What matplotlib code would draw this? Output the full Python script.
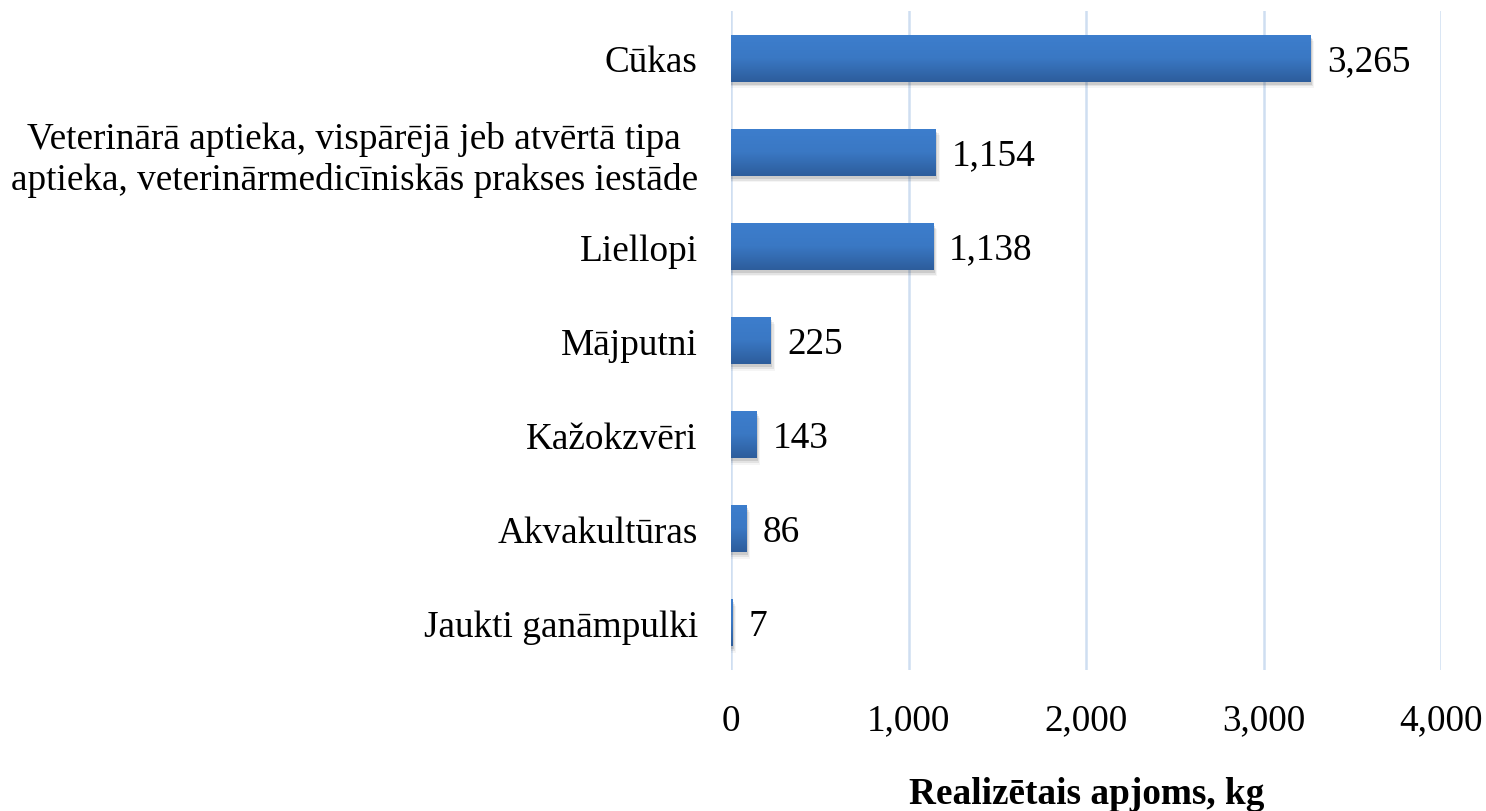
import numpy as np
import matplotlib
matplotlib.use("Agg")
import matplotlib.pyplot as plt
from matplotlib.colors import LinearSegmentedColormap

plt.rcParams['font.family'] = ['Liberation Serif', 'DejaVu Serif']

# data, top to bottom as in the chart
categories = [
    "Cūkas",
    "Veterinārā aptieka, vispārējā jeb atvērtā tipa\naptieka, veterinārmedicīniskās prakses iestāde",
    "Liellopi",
    "Mājputni",
    "Kažokzvēri",
    "Akvakultūras",
    "Jaukti ganāmpulki",
]
values = [3265, 1154, 1138, 225, 143, 86, 7]
xticks = [0, 1000, 2000, 3000, 4000]

fs = 26.8

fig = plt.figure(figsize=(14.86, 8.12), dpi=100)
ax = fig.add_axes([0.492, 0.174, 0.478, 0.811])

n = len(values)
ypos = np.arange(n)[::-1]
bar_h = 0.5

# gradient for the bars (lighter on top, darker at bottom)
grad = LinearSegmentedColormap.from_list("bar", ["#2d5d9c", "#3a78c4", "#3d7ecd"])
g = np.linspace(0, 1, 64).reshape(-1, 1)

for y, v in zip(ypos, values):
    # soft shadow under the bar
    for k, a in enumerate([0.10, 0.07, 0.04]):
        off = 0.03 + k * 0.02
        ax.add_patch(plt.Rectangle((0, y - bar_h / 2 - off), v + 8 + k * 6, bar_h,
                                   color="black", alpha=a, lw=0, zorder=2))
    bar = ax.barh(y, v, height=bar_h, color="none", zorder=3)[0]
    im = ax.imshow(g, cmap=grad, aspect="auto", origin="lower",
                   extent=(0, v, y - bar_h / 2, y + bar_h / 2), zorder=3)
    im.set_clip_path(bar)
    ax.text(v + 90, y - 0.03, f"{v:,}", va="center", ha="left", fontsize=fs, zorder=4)

ax.set_xlim(0, 4000)
ax.set_ylim(-0.5, n - 0.5)
ax.set_xticks(xticks)
ax.set_xticklabels([f"{t:,}" for t in xticks], fontsize=fs)
ax.set_yticks(ypos)
ax.set_yticklabels(categories, fontsize=fs, multialignment="center")
ax.tick_params(axis="both", length=0)
ax.tick_params(axis="x", pad=24)
ax.tick_params(axis="y", pad=24)
ax.grid(axis="x", color="#cfdef1", linewidth=1.8, zorder=0)
ax.set_axisbelow(True)
for s in ax.spines.values():
    s.set_visible(False)

ax.set_xlabel("Realizētais apjoms, kg", fontsize=fs, fontweight="bold", labelpad=28)

fig.savefig("out.png", dpi=100, facecolor="white")
